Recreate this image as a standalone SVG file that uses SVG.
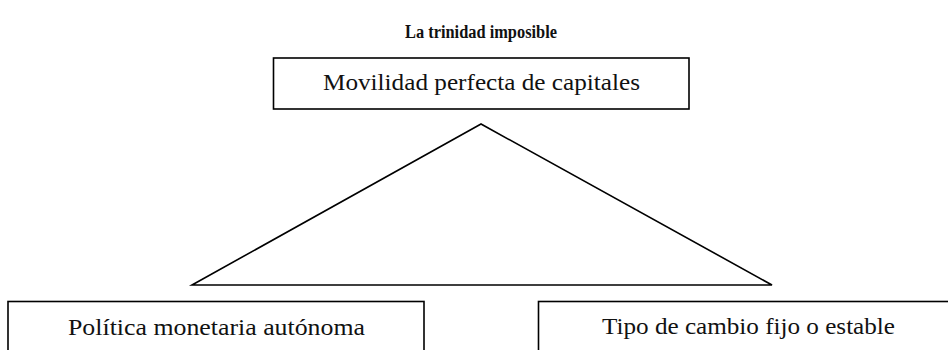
<svg xmlns="http://www.w3.org/2000/svg" width="948" height="350" viewBox="0 0 948 350">
<style>
.box{fill:#fff;stroke:#000;stroke-width:1.6}
.lbl{font-family:"Liberation Serif","DejaVu Serif",serif;font-size:24px;fill:#111;text-anchor:middle}
.title{font-family:"Liberation Serif","DejaVu Serif",serif;font-size:18px;font-weight:bold;fill:#111;text-anchor:middle}
.edge{fill:none;stroke:#000;stroke-width:1.6;stroke-linejoin:miter}
</style>
<rect width="948" height="350" fill="#fff"/>
<text class="title" x="481" y="38" textLength="152" lengthAdjust="spacingAndGlyphs">La trinidad imposible</text>
<g id="connectors">
<polygon class="edge" points="481,124 192,285 772,285"/>
</g>
<g id="node-movilidad">
<rect class="box" x="273.5" y="58" width="415.5" height="51"/>
<text class="lbl" x="481.5" y="90" textLength="317" lengthAdjust="spacingAndGlyphs">Movilidad perfecta de capitales</text>
</g>
<g id="node-politica">
<rect class="box" x="8" y="301.5" width="416" height="60"/>
<text class="lbl" x="216.5" y="335" textLength="297" lengthAdjust="spacingAndGlyphs">Política monetaria autónoma</text>
</g>
<g id="node-tipo">
<rect class="box" x="538.5" y="301.5" width="420" height="60"/>
<text class="lbl" x="748.5" y="334" textLength="293" lengthAdjust="spacingAndGlyphs">Tipo de cambio fijo o estable</text>
</g>
</svg>
